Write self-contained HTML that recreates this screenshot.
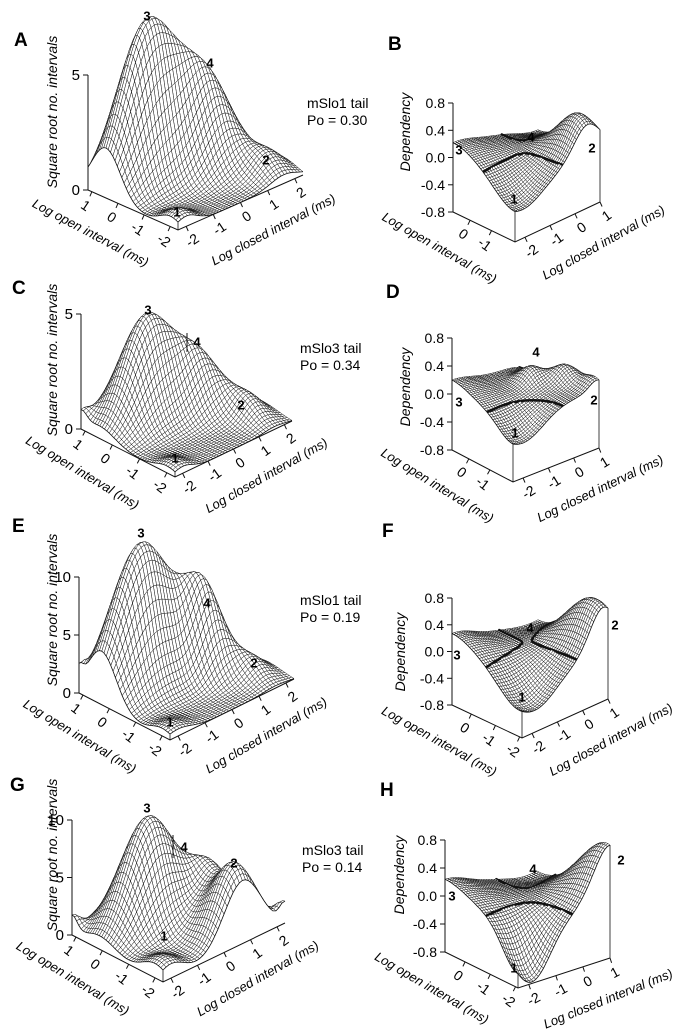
<!DOCTYPE html>
<html><head><meta charset="utf-8"><title>Dependency plots</title>
<style>
html,body{margin:0;padding:0;background:#fff;}
svg{display:block;font-family:"Liberation Sans",Arial,sans-serif;}
.pl{font-weight:bold;font-size:19px;}
.pk{font-weight:bold;font-size:13px;}
.lg{font-size:14px;}
</style></head>
<body>
<svg id="fig" xmlns="http://www.w3.org/2000/svg" width="686" height="1031" viewBox="0 0 686 1031">
<rect x="0" y="0" width="686" height="1031" fill="#fff"/>
<g id="surfaces"></g>
<g>
<text class="pl" x="14" y="46">A</text>
<text class="pl" x="388" y="50">B</text>
<text class="pl" x="12" y="294">C</text>
<text class="pl" x="386" y="298">D</text>
<text class="pl" x="12" y="532">E</text>
<text class="pl" x="382" y="537">F</text>
<text class="pl" x="10" y="791">G</text>
<text class="pl" x="380" y="796">H</text>
</g>
<g>
<text class="lg" x="307" y="108">mSlo1 tail</text>
<text class="lg" x="307" y="125">Po = 0.30</text>
<text class="lg" x="300" y="353">mSlo3 tail</text>
<text class="lg" x="300" y="370">Po = 0.34</text>
<text class="lg" x="300" y="605">mSlo1 tail</text>
<text class="lg" x="300" y="622">Po = 0.19</text>
<text class="lg" x="302" y="855">mSlo3 tail</text>
<text class="lg" x="302" y="872">Po = 0.14</text>
</g>
</svg>
<script>
// ---- data (log units: [amplitude, log open, log closed, sigma open, sigma closed]) ----
const peaksA=[[6.9,0.46,-0.78,0.55,1.0],[3.5,-0.23,0.83,0.6,0.7],[1.0,-1.6,1.6,0.5,0.5],[0.6,-2.0,-2.0,0.4,0.4]];
const peaksC=[[4.4,0.46,-0.46,0.55,0.9],[2.0,-0.23,0.92,0.5,0.6],[0.9,-1.3,1.6,0.5,0.4],[0.4,-2,-2,0.4,0.4],[0.6,1.15,-2.3,0.2,0.3]];
const peaksE=[[12.3,0.29,-0.83,0.55,1.05],[6.5,-0.4,0.85,0.5,0.5],[1.5,-1.4,1.6,0.45,0.4],[0.8,-2,-2,0.4,0.5],[1.2,1.15,-2.3,0.15,0.2]];
const peaksG=[[9.5,0.1,-0.46,0.6,0.9],[3.5,-0.6,1.15,0.5,0.5],[6.5,-1.95,0.7,0.6,0.7],[1.5,-2,-2,0.5,0.5],[1.5,1.15,-2.3,0.2,0.25],[1.5,-2.3,2.3,0.25,0.2]];
const peaksB=[[-0.4,-2.1,-2.1,0.9,0.9],[0.2,0.8,-2.4,1.0,0.9],[0.5,-1.66,0.49,0.7,0.5],[-0.2,0.8,1.0,0.8,0.8]];
const peaksD=[[-0.35,-2.1,-2.0,0.7,0.8],[0.15,0.8,-2.4,0.8,0.8],[0.2,-0.3,-0.2,0.35,0.35],[0.2,-0.9,0.6,0.35,0.35],[0.15,-1.9,0.9,0.4,0.3],[-0.15,0.8,1.0,0.5,0.5]];
const peaksF=[[-0.5,-2.0,-1.9,0.8,0.9],[0.65,-1.7,0.8,0.9,0.5],[0.25,0.8,-2.4,0.9,0.8],[-0.15,0.6,0.8,0.8,0.8]];
const peaksH=[[-0.8,-2.1,-1.9,0.6,0.7],[0.8,-2.0,1.0,0.9,0.6],[0.22,0.8,-2.4,0.9,0.8],[-0.12,0.6,0.6,0.7,0.7]];
const basesDep=[0.02,0.05,0.02,0.02];
const zTicksHistSmall=[0,5];
const zTicksHistLarge=[0,5,10];
const zTicksDep=[0.8,0.4,0.0,-0.4,-0.8];
const zTickLabelsDep=["0.8","0.4","0.0","-0.4","-0.8"];
const openTicksHist=[1,0,-1,-2];
const closedTicksHist=[-2,-1,0,1,2];
const openTicksDepShort=[0,-1];
const openTicksDepLong=[0,-1,-2];
const closedTicksDep=[-2,-1,0,1];
const peakLabels=["1","2","3","4"];

const NS='http://www.w3.org/2000/svg';
const root=document.getElementById('surfaces');
function mk(tag,attrs,parent){const e=document.createElementNS(NS,tag);for(const k in attrs)e.setAttribute(k,attrs[k]);parent.appendChild(e);return e;}

const panels=[
 {id:'a',dep:false,L:[88,190],F:[178,230],R:[303,175],zTopY:75,zTop:5,zmin:0,open:[-2.3,1.15],closed:[-2.3,2.3],peaks:peaksA,base:0,zt:zTicksHistSmall,ot:openTicksHist,ct:closedTicksHist,tx:52,ty:112,
  pk:[[177,212],[266,160],[147,16],[210,63]]},
 {id:'b',dep:true,L:[453,212],F:[515,242],R:[600,202],zTopY:103,zTop:0.8,zmin:-0.8,open:[-2.1,0.8],closed:[-2.4,1.0],peaks:peaksB,base:basesDep[0],zt:zTicksDep,ot:openTicksDepShort,ct:closedTicksDep,tx:405,ty:132,
  pk:[[514,199],[592,148],[459,150],[531,137]]},
 {id:'c',dep:false,L:[81,429],F:[175,477],R:[292,421],zTopY:314,zTop:5,zmin:0,open:[-2.3,1.15],closed:[-2.3,2.3],peaks:peaksC,base:0,zt:zTicksHistSmall,ot:openTicksHist,ct:closedTicksHist,tx:52,ty:360,
  pk:[[175,458],[241,405],[148,310],[197,342]]},
 {id:'d',dep:true,L:[452,450],F:[513,482],R:[599,448],zTopY:338,zTop:0.8,zmin:-0.8,open:[-2.1,0.8],closed:[-2.4,1.0],peaks:peaksD,base:basesDep[1],zt:zTicksDep,ot:openTicksDepShort,ct:closedTicksDep,tx:405,ty:387,
  pk:[[515,433],[594,400],[459,402],[536,352]]},
 {id:'e',dep:false,L:[79,693],F:[170,740],R:[294,679],zTopY:577,zTop:10,zmin:0,open:[-2.3,1.15],closed:[-2.3,2.3],peaks:peaksE,base:0,zt:zTicksHistLarge,ot:openTicksHist,ct:closedTicksHist,tx:52,ty:610,
  pk:[[170,722],[254,663],[141,533],[207,603]]},
 {id:'f',dep:true,L:[452,705],F:[522,738],R:[608,699],zTopY:598,zTop:0.8,zmin:-0.8,open:[-2.1,0.8],closed:[-2.4,1.0],peaks:peaksF,base:basesDep[2],zt:zTicksDep,ot:openTicksDepLong,ct:closedTicksDep,tx:400,ty:652,
  pk:[[522,697],[615,625],[457,655],[530,628]]},
 {id:'g',dep:false,L:[72,935],F:[163,982],R:[285,923],zTopY:820,zTop:10,zmin:0,open:[-2.3,1.15],closed:[-2.3,2.3],peaks:peaksG,base:0,zt:zTicksHistLarge,ot:openTicksHist,ct:closedTicksHist,tx:52,ty:855,
  pk:[[164,936],[234,863],[147,808],[184,847]]},
 {id:'h',dep:true,L:[445,952],F:[518,988],R:[610,958],zTopY:840,zTop:0.8,zmin:-0.8,open:[-2.1,0.8],closed:[-2.4,1.0],peaks:peaksH,base:basesDep[3],zt:zTicksDep,ot:openTicksDepLong,ct:closedTicksDep,tx:399,ty:875,
  pk:[[514,968],[621,860],[452,896],[533,869]]}
];

function f1(v){return v.toFixed(1);}

function drawPanel(c){
 const g=mk('g',{},root);
 
 
 const L=c.L,F=c.F,R=c.R;
 const k=(L[1]-c.zTopY)/(c.zTop-c.zmin);
 const P=(o,cl,z)=>{const a=(o-c.open[0])/(c.open[1]-c.open[0]);const b=(cl-c.closed[0])/(c.closed[1]-c.closed[0]);
   return [F[0]+a*(L[0]-F[0])+b*(R[0]-F[0]), F[1]+a*(L[1]-F[1])+b*(R[1]-F[1])-(z-c.zmin)*k];};
 const surf=(o,cl)=>{let s=c.base;for(const p of c.peaks){s+=p[0]*Math.exp(-((o-p[1])**2)/(2*p[3]*p[3])-((cl-p[2])**2)/(2*p[4]*p[4]));}return s;};
 const N=c.dep?36:40;
 const O=[],C=[],Z=[];
 for(let i=0;i<=N;i++)O.push(c.open[0]+i/N*(c.open[1]-c.open[0]));
 for(let j=0;j<=N;j++)C.push(c.closed[0]+j/N*(c.closed[1]-c.closed[0]));
 for(let i=0;i<=N;i++){Z.push([]);for(let j=0;j<=N;j++)Z[i].push(surf(O[i],C[j]));}
 const S=(i,j)=>P(O[i],C[j],Z[i][j]);
 const sg=mk('g',{},g);
 
 
 for(let s=2*N-2;s>=0;s--){
  for(let i=Math.max(0,s-N+1);i<=Math.min(N-1,s);i++){
   const j=s-i;
   const p=[S(i,j),S(i+1,j),S(i+1,j+1),S(i,j+1)];
   const poly=mk('polygon',{points:p.map(q=>f1(q[0])+','+f1(q[1])).join(' '),fill:'#fff',stroke:'#1a1a1a','stroke-width':'0.5','stroke-linejoin':'round'},sg);
   
   
   if(c.dep){
    const cr=[[i,j],[i+1,j],[i+1,j+1],[i,j+1]];
    const pts=[];
    for(let e=0;e<4;e++){
     const A=cr[e],B=cr[(e+1)%4];
     const va=Z[A[0]][A[1]],vb=Z[B[0]][B[1]];
     if((va<0)!==(vb<0)){
      const t=va/(va-vb);
      const o=O[A[0]]+t*(O[B[0]]-O[A[0]]),cl=C[A[1]]+t*(C[B[1]]-C[A[1]]);
      pts.push(P(o,cl,0));
     }
    }
    for(let m=0;m+1<pts.length;m+=2){
     const ln=mk('line',{x1:f1(pts[m][0]),y1:f1(pts[m][1]),x2:f1(pts[m+1][0]),y2:f1(pts[m+1][1]),stroke:'#111','stroke-width':'2.6','stroke-linecap':'round'},sg);
     
     
    }
   }
  }
 }
 const Lb=P(c.open[1],c.closed[0],c.zmin),Fb=P(c.open[0],c.closed[0],c.zmin),Rb=P(c.open[0],c.closed[1],c.zmin);
 let w1=[];for(let i=0;i<=N;i++)w1.push(S(i,0));
 const wall1=mk('polygon',{points:w1.concat([Lb,Fb]).map(q=>f1(q[0])+','+f1(q[1])).join(' '),fill:'#fff',stroke:'none'},g);
 
 
 const pr1=mk('polyline',{points:w1.map(q=>f1(q[0])+','+f1(q[1])).join(' '),fill:'none',stroke:'#111','stroke-width':'0.8'},g);
 
 
 let w2=[];for(let j=0;j<=N;j++)w2.push(S(0,j));
 const wall2=mk('polygon',{points:w2.concat([Rb,Fb]).map(q=>f1(q[0])+','+f1(q[1])).join(' '),fill:'#fff',stroke:'none'},g);
 
 
 const pr2=mk('polyline',{points:w2.map(q=>f1(q[0])+','+f1(q[1])).join(' '),fill:'none',stroke:'#111','stroke-width':'0.8'},g);
 
 
 const fTop=S(0,0);
 const fe=mk('line',{x1:f1(Fb[0]),y1:f1(Fb[1]),x2:f1(fTop[0]),y2:f1(fTop[1]),stroke:'#111','stroke-width':'0.8'},g);
 
 
 if(c.dep){
  const rTop=S(0,N);
  const re=mk('line',{x1:f1(Rb[0]),y1:f1(Rb[1]),x2:f1(rTop[0]),y2:f1(rTop[1]),stroke:'#111','stroke-width':'0.8'},g);
  
  
 }
 const ax=mk('polyline',{points:[Lb,Fb,Rb].map(q=>f1(q[0])+','+f1(q[1])).join(' '),fill:'none',stroke:'#111','stroke-width':'1'},g);
 
 
 const za=mk('line',{x1:L[0],y1:L[1],x2:L[0],y2:c.zTopY,stroke:'#111','stroke-width':'1'},g);
 
 
 c.zt.forEach((v,idx)=>{
  const y=L[1]-(v-c.zmin)*k;
  const t=mk('line',{x1:L[0]-5,y1:f1(y),x2:L[0],y2:f1(y),stroke:'#111','stroke-width':'1'},g);
  
  
  const lb=mk('text',{x:L[0]-8,y:f1(y+5),'text-anchor':'end','font-size':c.dep?'14':'15'},g);
  lb.textContent=c.dep?zTickLabelsDep[idx]:String(v);
  
  
 });
 const d1=[Fb[0]-Lb[0],Fb[1]-Lb[1]],n1=Math.hypot(d1[0],d1[1]);
 const u1=[d1[0]/n1,d1[1]/n1],pp1=[-u1[1],u1[0]];
 const ang1=Math.atan2(u1[1],u1[0])*180/Math.PI;
 c.ot.forEach(v=>{
  const q=P(v,c.closed[0],c.zmin);
  const t=mk('line',{x1:f1(q[0]),y1:f1(q[1]),x2:f1(q[0]+pp1[0]*5),y2:f1(q[1]+pp1[1]*5),stroke:'#111','stroke-width':'1'},g);
  
  
  const lx=q[0]+pp1[0]*15,ly=q[1]+pp1[1]*15;
  const lb=mk('text',{x:f1(lx),y:f1(ly),'text-anchor':'middle','dominant-baseline':'central','font-size':'14',transform:'rotate('+f1(ang1+10)+' '+f1(lx)+' '+f1(ly)+')'},g);
  lb.textContent=String(v);
  
  
 });
 {
  const tt=c.dep?0.05:0.2,po=38;
  const x=Lb[0]+d1[0]*tt+pp1[0]*po,y=Lb[1]+d1[1]*tt+pp1[1]*po;
  const ti=mk('text',{x:f1(x),y:f1(y),'text-anchor':'middle','dominant-baseline':'central','font-size':'13','font-style':'italic',transform:'rotate('+f1(ang1+4)+' '+f1(x)+' '+f1(y)+')'},g);
  ti.textContent='Log open interval (ms)';
  
  
 }
 const d2=[Rb[0]-Fb[0],Rb[1]-Fb[1]],n2=Math.hypot(d2[0],d2[1]);
 const u2=[d2[0]/n2,d2[1]/n2],pp2=[-u2[1],u2[0]];
 const ang2=Math.atan2(u2[1],u2[0])*180/Math.PI;
 c.ct.forEach(v=>{
  const q=P(c.open[0],v,c.zmin);
  const t=mk('line',{x1:f1(q[0]),y1:f1(q[1]),x2:f1(q[0]+pp2[0]*5),y2:f1(q[1]+pp2[1]*5),stroke:'#111','stroke-width':'1'},g);
  
  
  const lx=q[0]+pp2[0]*15,ly=q[1]+pp2[1]*15;
  const lb=mk('text',{x:f1(lx),y:f1(ly),'text-anchor':'middle','dominant-baseline':'central','font-size':'14',transform:'rotate('+f1(ang2-10)+' '+f1(lx)+' '+f1(ly)+')'},g);
  lb.textContent=String(v);
  
  
 });
 {
  const tt=c.dep?0.85:0.64,po=38;
  const x=Fb[0]+d2[0]*tt+pp2[0]*po,y=Fb[1]+d2[1]*tt+pp2[1]*po;
  const ti=mk('text',{x:f1(x),y:f1(y),'text-anchor':'middle','dominant-baseline':'central','font-size':'13','font-style':'italic',transform:'rotate('+f1(ang2-4)+' '+f1(x)+' '+f1(y)+')'},g);
  ti.textContent='Log closed interval (ms)';
  
  
 }
 {
  const ti=mk('text',{x:c.tx,y:c.ty,'text-anchor':'middle','dominant-baseline':'central','font-size':'14','font-style':'italic',transform:'rotate(-90 '+c.tx+' '+c.ty+')'},g);
  ti.textContent=c.dep?'Dependency':'Square root no. intervals';
  
  
 }
 c.pk.forEach((q,idx)=>{
  const lb=mk('text',{x:q[0],y:q[1],'text-anchor':'middle','dominant-baseline':'central',class:'pk'},g);
  lb.textContent=peakLabels[idx];
  
  
 });
}
panels.forEach(drawPanel);
[[187,333,352],[173,835,858]].forEach(a=>{
 const ln=mk('line',{x1:a[0],y1:a[1],x2:a[0],y2:a[2],stroke:'#111','stroke-width':'1'},root);
 
 
});
</script>
</body></html>
